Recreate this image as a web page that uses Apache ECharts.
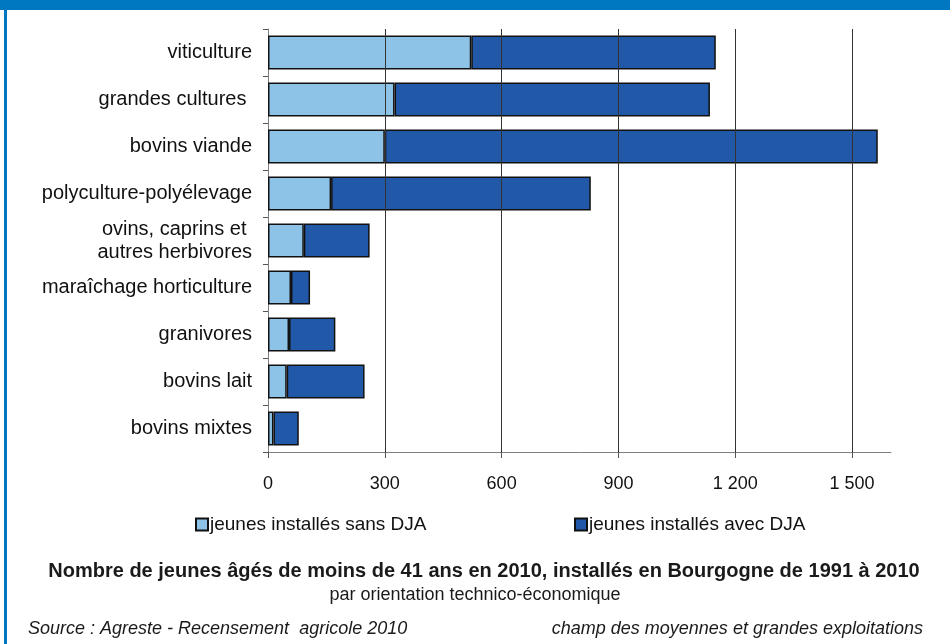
<!DOCTYPE html>
<html><head><meta charset="utf-8">
<script src="https://cdn.jsdelivr.net/npm/echarts@6/dist/echarts.min.js"></script>
<style>html,body{margin:0;padding:0;background:#fff}#c{width:950px;height:644px}</style>
</head><body><div id="c"></div>
<script>
const categories = ['viticulture','grandes cultures ','bovins viande','polyculture-polyélevage','ovins, caprins et \nautres herbivores','maraîchage horticulture','granivores','bovins lait','bovins mixtes'];
const sansDJA = [522, 325, 300, 162, 92, 59, 54, 48, 14];
const avecDJA = [628, 810, 1266, 667, 169, 49, 119, 200, 65];
const tickValues = [0, 300, 600, 900, 1200, 1500];
const seriesNames = ['jeunes installés sans DJA', 'jeunes installés avec DJA'];

const FONT = "'Liberation Sans', Arial, sans-serif";
const chart = echarts.init(document.getElementById('c'), null, {renderer: 'canvas'});
const fmt = v => v >= 1000 ? Math.floor(v/1000) + ' ' + String(v % 1000).padStart(3, '0') : String(v);

chart.setOption({
  animation: false,
  backgroundColor: '#fff',
  grid: {left: 268, right: 59, top: 29, bottom: 192, containLabel: false},
  xAxis: {
    type: 'value', min: 0, max: 1600, interval: 100,
    axisLine: {show: true, lineStyle: {color: '#7f7f7f', width: 1}},
    axisTick: {show: true, length: 6, inside: false, customValues: tickValues, lineStyle: {color: '#555'}},
    axisLabel: {customValues: tickValues, formatter: v => fmt(v), margin: 23, fontFamily: FONT, fontSize: 18, color: '#111'},
    splitLine: {show: false}
  },
  yAxis: {
    type: 'category', data: categories, inverse: true,
    axisLine: {show: true, lineStyle: {color: '#7f7f7f', width: 1}},
    axisTick: {show: true, length: 5, lineStyle: {color: '#555'}},
    axisLabel: {margin: 16, fontFamily: FONT, fontSize: 20, color: '#111', lineHeight: 23}
  },
  legend: [
    {data: [seriesNames[0]], left: 190, top: 510, itemWidth: 12, itemHeight: 12, icon: 'rect', itemGap: 4,
     textStyle: {fontFamily: FONT, fontSize: 19, color: '#111', padding: [0,0,0,-3]}},
    {data: [seriesNames[1]], left: 569, top: 510, itemWidth: 12, itemHeight: 12, icon: 'rect', itemGap: 4,
     textStyle: {fontFamily: FONT, fontSize: 19, color: '#111', padding: [0,0,0,-3]}}
  ],
  series: [
    {name: seriesNames[0], type: 'bar', stack: 't', data: sansDJA, barCategoryGap: '28%',
     itemStyle: {color: '#8EC3E8', borderColor: '#111', borderWidth: 1.5},
     markLine: {silent: true, symbol: 'none', label: {show: false}, animation: false,
       lineStyle: {color: '#333', width: 1, type: 'solid'},
       data: tickValues.slice(1).map(v => ({xAxis: v}))}, z: 2},
    {name: seriesNames[1], type: 'bar', stack: 't', data: avecDJA,
     itemStyle: {color: '#2158A8', borderColor: '#111', borderWidth: 1.5}, z: 3}
  ],
  graphic: [
    {type: 'rect', shape: {x: 0, y: 0, width: 950, height: 10}, style: {fill: '#0078C1'}, z: 10},
    {type: 'rect', shape: {x: 4, y: 0, width: 3, height: 644}, style: {fill: '#0078C1'}, z: 10},
    {type: 'text', x: 484, y: 571, style: {text: 'Nombre de jeunes âgés de moins de 41 ans en 2010, installés en Bourgogne de 1991 à 2010', font: "bold 20px " + FONT, fill: '#1a1a1a', textAlign: 'center', textVerticalAlign: 'middle'}},
    {type: 'text', x: 475, y: 595, style: {text: 'par orientation technico-économique', font: "18px " + FONT, fill: '#1a1a1a', textAlign: 'center', textVerticalAlign: 'middle'}},
    {type: 'text', x: 28, y: 629, style: {text: 'Source : Agreste - Recensement  agricole 2010', font: "italic 18px " + FONT, fill: '#1a1a1a', textAlign: 'left', textVerticalAlign: 'middle'}},
    {type: 'text', x: 923, y: 629, style: {text: 'champ des moyennes et grandes exploitations', font: "italic 18px " + FONT, fill: '#1a1a1a', textAlign: 'right', textVerticalAlign: 'middle'}}
  ]
});
</script></body></html>
